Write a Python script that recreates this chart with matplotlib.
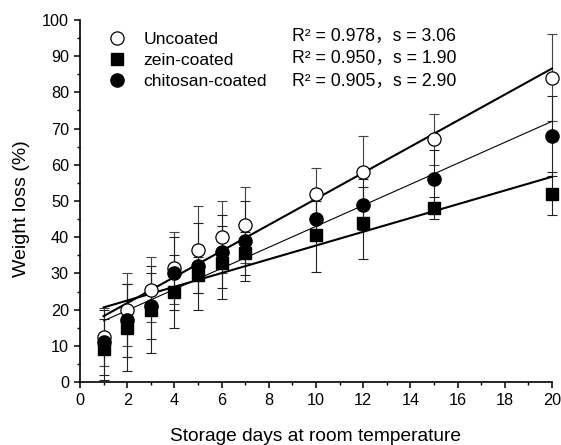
import numpy as np
import matplotlib
matplotlib.use("Agg")
import matplotlib.pyplot as plt
from matplotlib.ticker import MultipleLocator

plt.rcParams['font.family'] = ['Liberation Sans', 'Noto Sans CJK SC', 'DejaVu Sans']

days = [1, 2, 3, 4, 5, 6, 7, 10, 12, 15, 20]

uncoated = [12.5, 20, 25.5, 31.5, 36.5, 40, 43.5, 52, 58, 67, 84]
uncoated_err = [8, 10, 9, 10, 12, 10, 10.5, 7, 10, 7, 12]

zein = [9, 15, 20, 25, 29.5, 33, 35.5, 40.5, 44, 48, 52]
zein_err = [8.5, 12, 12, 10, 5, 10, 6, 10, 10, 3, 6]

chitosan = [11, 17, 21, 30, 32, 36, 39, 45, 49, 56, 68]
chitosan_err = [9, 10, 9, 10, 12, 10, 11, 5, 7, 8, 11]

# linear trend lines: intercept, slope
fit_intercepts = [14.6, 18.7, 14.0]
fit_slopes = [3.6, 1.90, 2.90]
fit_widths = [1.5, 1.5, 0.8]

labels = ["Uncoated", "zein-coated", "chitosan-coated"]
fit_texts = ["R² = 0.978，s = 3.06", "R² = 0.950，s = 1.90", "R² = 0.905，s = 2.90"]

fig = plt.figure(figsize=(5.61, 4.45), dpi=100)
ax = fig.add_axes([80/561, 63/445, 472/561, 362/445])

series = [
    (uncoated, uncoated_err, dict(marker='o', mfc='white', mec='black', ms=9.5, mew=0.9), '#444444'),
    (zein, zein_err, dict(marker='s', mfc='black', mec='black', ms=8.5), '#222222'),
    (chitosan, chitosan_err, dict(marker='o', mfc='black', mec='black', ms=9.5), '#222222'),
]

handles = []
for (vals, errs, mk, ecol), lab in zip(series, labels):
    eb = ax.errorbar(days, vals, yerr=errs, fmt='none', ecolor=ecol, elinewidth=0.8,
                     capsize=3.5, capthick=0.8, zorder=2)
    for art in eb.lines[1] + eb.lines[2]:
        art.set_clip_on(False)
    h, = ax.plot(days, vals, linestyle='none', zorder=4, label=lab, clip_on=False, **mk)
    handles.append(h)

xfit = np.array([days[0], days[-1]])
for b, m, lw in zip(fit_intercepts, fit_slopes, fit_widths):
    ax.plot(xfit, b + m * xfit, color='black', lw=lw, zorder=3, clip_on=False)

ax.set_xlim(0, 20)
ax.set_ylim(0, 100)
ax.xaxis.set_major_locator(MultipleLocator(2))
ax.xaxis.set_minor_locator(MultipleLocator(1))
ax.yaxis.set_major_locator(MultipleLocator(10))
ax.yaxis.set_minor_locator(MultipleLocator(5))
ax.spines['top'].set_visible(False)
ax.spines['right'].set_visible(False)
for s in ('left', 'bottom'):
    ax.spines[s].set_linewidth(1.2)
ax.tick_params(which='major', direction='out', length=4.5, width=1.1, labelsize=11.7)
ax.tick_params(which='minor', direction='out', length=2.3, width=1.0)

ax.set_xlabel("Storage days at room temperature", fontsize=13.8)
ax.set_ylabel("Weight loss (%)", fontsize=14)
ax.xaxis.set_label_coords(0.5, -0.127)
ax.yaxis.set_label_coords(-0.105, 0.478)

leg = ax.legend(handles=handles, loc='upper left', bbox_to_anchor=(0.045, 0.987),
                frameon=False, fontsize=12.6, handlelength=1.0, handletextpad=1.0,
                labelspacing=0.34, borderaxespad=0)

ytxt = [0.954, 0.894, 0.8315]
for t, yy in zip(fit_texts, ytxt):
    ax.text(0.449, yy, t, transform=ax.transAxes, fontsize=12.7, va='center', ha='left')

fig.savefig("out.png", dpi=100)
